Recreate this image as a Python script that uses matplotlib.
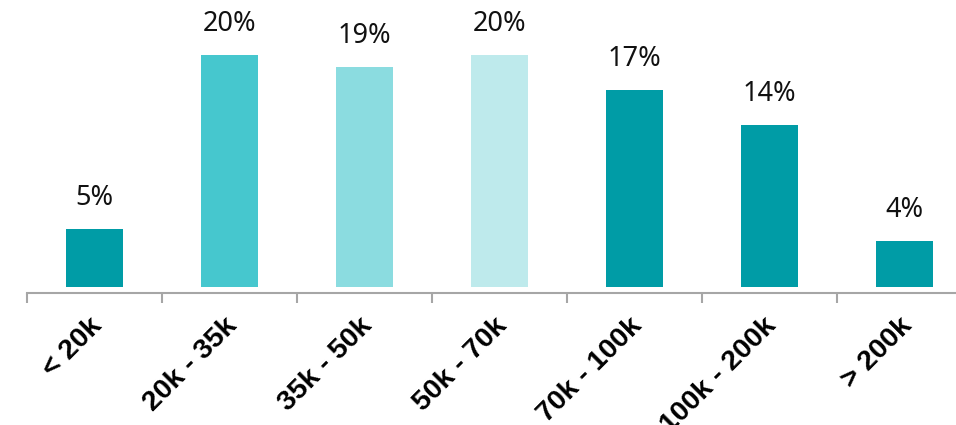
import matplotlib.pyplot as plt
import matplotlib.transforms as mtransforms
import numpy as np

# income brackets and share of respondents (%)
brackets = ["< 20k", "20k - 35k", "35k - 50k", "50k - 70k", "70k - 100k", "100k - 200k", "> 200k"]
shares = [5, 20, 19, 20, 17, 14, 4]
bar_colors = ["#009CA6", "#46C7CE", "#8BDCE0", "#BEEAEC", "#009CA6", "#009CA6", "#009CA6"]

W, H = 956, 425
fig = plt.figure(figsize=(W / 100, H / 100), dpi=100)
# axes spans from the first category boundary to the right edge
ax = fig.add_axes([27 / W, (H - 293) / H, (W - 27) / W, 293 / H])

x = np.arange(len(brackets))
ax.bar(x, shares, width=0.415, color=bar_colors)

px_per_pct = 11.6
ymin = -6 / px_per_pct
ax.set_ylim(ymin, ymin + 293 / px_per_pct)
ax.set_xlim(-0.5, -0.5 + (W - 27) / 135)

for xi, v in zip(x, shares):
    ax.annotate(f"{v}%", (xi, v), xytext=(0, 12), textcoords="offset points",
                ha="center", va="bottom", fontsize=19.5, family="Noto Sans",
                color="#111111")

for s in ["top", "right", "left"]:
    ax.spines[s].set_visible(False)
ax.spines["bottom"].set_color("#A6A6A6")
ax.spines["bottom"].set_linewidth(1.5)
ax.set_yticks([])

ax.set_xticks(x)
ax.set_xticklabels(brackets, rotation=45, ha="right", rotation_mode="anchor",
                   fontsize=20.5, fontweight="bold", family="Liberation Sans")
ax.tick_params(axis="x", which="major", length=0, pad=14)
ax.set_xticks(np.arange(-0.5, len(brackets) - 0.5), minor=True)
ax.tick_params(axis="x", which="minor", length=7, width=1.5, color="#A6A6A6",
               direction="out")

# nudge the slanted labels a little to the left
shift = mtransforms.ScaledTranslation(-6 / 100, 0, fig.dpi_scale_trans)
for lbl in ax.get_xticklabels():
    lbl.set_transform(lbl.get_transform() + shift)

fig.savefig("out.png", dpi=100)
